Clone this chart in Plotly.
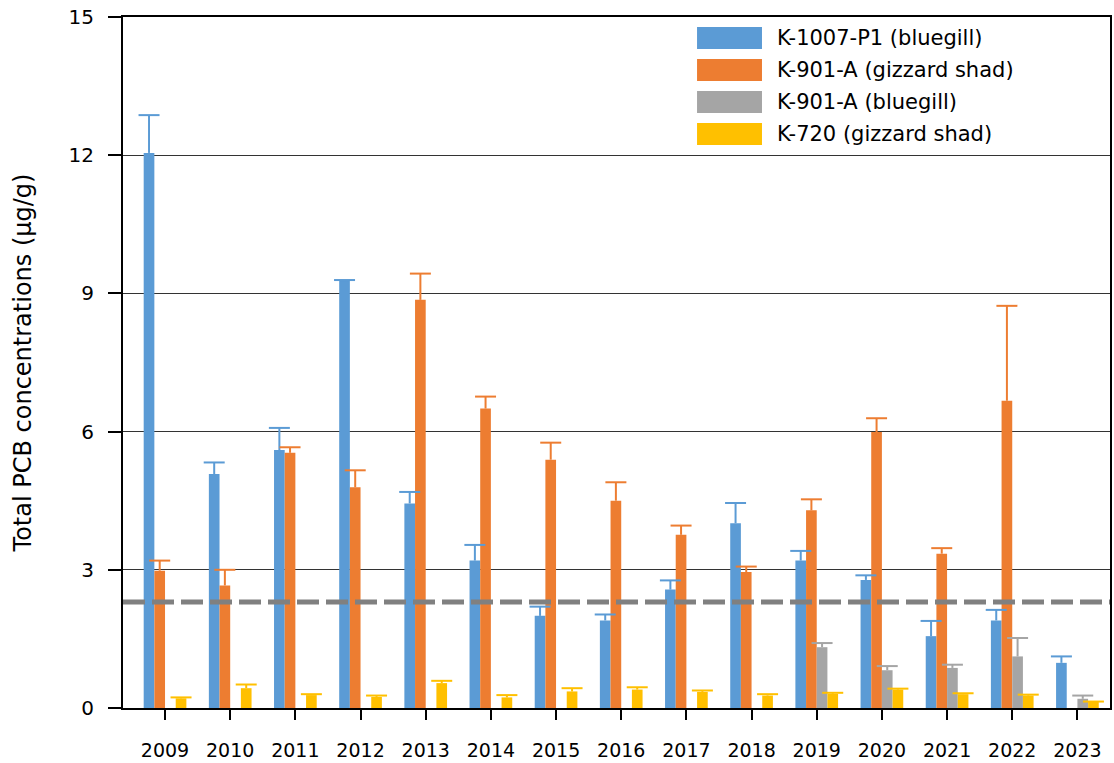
import plotly.graph_objects as go

years = [str(y) for y in range(2009, 2024)]

series_names = [
    "K-1007-P1 (bluegill)",
    "K-901-A (gizzard shad)",
    "K-901-A (bluegill)",
    "K-720 (gizzard shad)",
]
series_colors = ["#5B9BD5", "#ED7D31", "#A5A5A5", "#FFC000"]

# mean values (ug/g)
k1007_bluegill = [12.05, 5.08, 5.60, 9.27, 4.44, 3.20, 2.00, 1.90, 2.57, 4.01, 3.20, 2.78, 1.56, 1.90, 0.98]
k901_shad = [2.98, 2.66, 5.54, 4.79, 8.86, 6.50, 5.39, 4.50, 3.76, 2.95, 4.29, 5.99, 3.35, 6.67, None]
k901_bluegill = [None] * 10 + [1.32, 0.82, 0.87, 1.12, 0.20]
k720_shad = [0.21, 0.43, 0.28, 0.24, 0.54, 0.23, 0.36, 0.40, 0.35, 0.27, 0.31, 0.40, 0.30, 0.27, 0.13]

# upper error bars
k1007_bluegill_err = [0.82, 0.25, 0.48, 0.02, 0.25, 0.34, 0.20, 0.13, 0.20, 0.44, 0.21, 0.10, 0.33, 0.23, 0.14]
k901_shad_err = [0.22, 0.34, 0.12, 0.37, 0.57, 0.26, 0.37, 0.40, 0.20, 0.12, 0.24, 0.30, 0.12, 2.06, None]
k901_bluegill_err = [None] * 10 + [0.09, 0.09, 0.07, 0.40, 0.07]
k720_shad_err = [0.02, 0.08, 0.02, 0.03, 0.05, 0.05, 0.07, 0.05, 0.03, 0.03, 0.02, 0.02, 0.02, 0.02, 0.01]

reference_level = 2.3

values = [k1007_bluegill, k901_shad, k901_bluegill, k720_shad]
errors = [k1007_bluegill_err, k901_shad_err, k901_bluegill_err, k720_shad_err]

FONT = "Century Gothic, DejaVu Sans, sans-serif"
BARGAP = 0.345

fig = go.Figure()

for name, color, vals in zip(series_names, series_colors, values):
    fig.add_trace(go.Bar(x=years, y=vals, name=name, marker=dict(color=color, line=dict(width=0)),
                         showlegend=False))

# plus-only error bars: cap marker at top, stem drawn down to the bar
for name, color, vals, errs in zip(series_names, series_colors, values, errors):
    tops = [None if v is None else v + e for v, e in zip(vals, errs)]
    fig.add_trace(go.Scatter(
        x=years, y=tops, mode="markers", name=name, showlegend=False,
        marker=dict(symbol="line-ew", size=15, color=color, line=dict(width=2, color=color)),
        error_y=dict(type="data", symmetric=False, array=[0] * len(errs),
                     arrayminus=errs, width=0, thickness=2, color=color),
        hoverinfo="skip",
    ))

fig.add_hline(y=reference_level, line=dict(color="#808080", width=5, dash="22px,7px"), layer="above")

# legend drawn as large swatches like the original
for i, (name, color) in enumerate(zip(series_names, series_colors)):
    yc = 0.9696 - i * 0.0463
    fig.add_shape(type="rect", xref="paper", yref="paper", x0=0.5816, x1=0.6474,
                  y0=yc - 0.016, y1=yc + 0.016, fillcolor=color, line=dict(width=0))
    fig.add_annotation(xref="paper", yref="paper", x=0.6606, y=yc, text=name, showarrow=False,
                       xanchor="left", yanchor="middle", font=dict(family=FONT, size=21, color="black"))

fig.update_layout(
    width=1114, height=763,
    margin=dict(l=123, r=4, t=17, b=55),
    barmode="group", bargap=BARGAP, bargroupgap=0,
    scattermode="group", scattergap=BARGAP,
    plot_bgcolor="white", paper_bgcolor="white",
    font=dict(family=FONT, color="black"),
    showlegend=False,
)

fig.update_xaxes(
    type="category", range=[-0.645, 14.5], automargin=False,
    showline=True, linecolor="black", linewidth=2, mirror=True,
    ticks="outside", ticklen=10, tickwidth=2, tickcolor="black",
    ticklabelstandoff=14,
    tickfont=dict(family=FONT, size=19, color="black"),
    showgrid=False,
)

fig.update_yaxes(
    range=[0, 15], tickvals=[0, 3, 6, 9, 12, 15], automargin=False,
    showline=True, linecolor="black", linewidth=2, mirror=True,
    ticks="outside", ticklen=13, tickwidth=1.5, tickcolor="black",
    ticklabelstandoff=10, ticklabeloverflow="allow",
    tickfont=dict(family=FONT, size=20, color="black"),
    showgrid=True, gridcolor="#333333", gridwidth=1,
    zeroline=False,
    title=dict(text="Total PCB concentrations (µg/g)", font=dict(family=FONT, size=24, color="black"),
               standoff=30),
)

# drop the default 8px body margin so the figure fills the window exactly
fig.write_html(
    "out.html",
    config={"displayModeBar": False},
    post_script="document.body.style.margin = '0';",
)
